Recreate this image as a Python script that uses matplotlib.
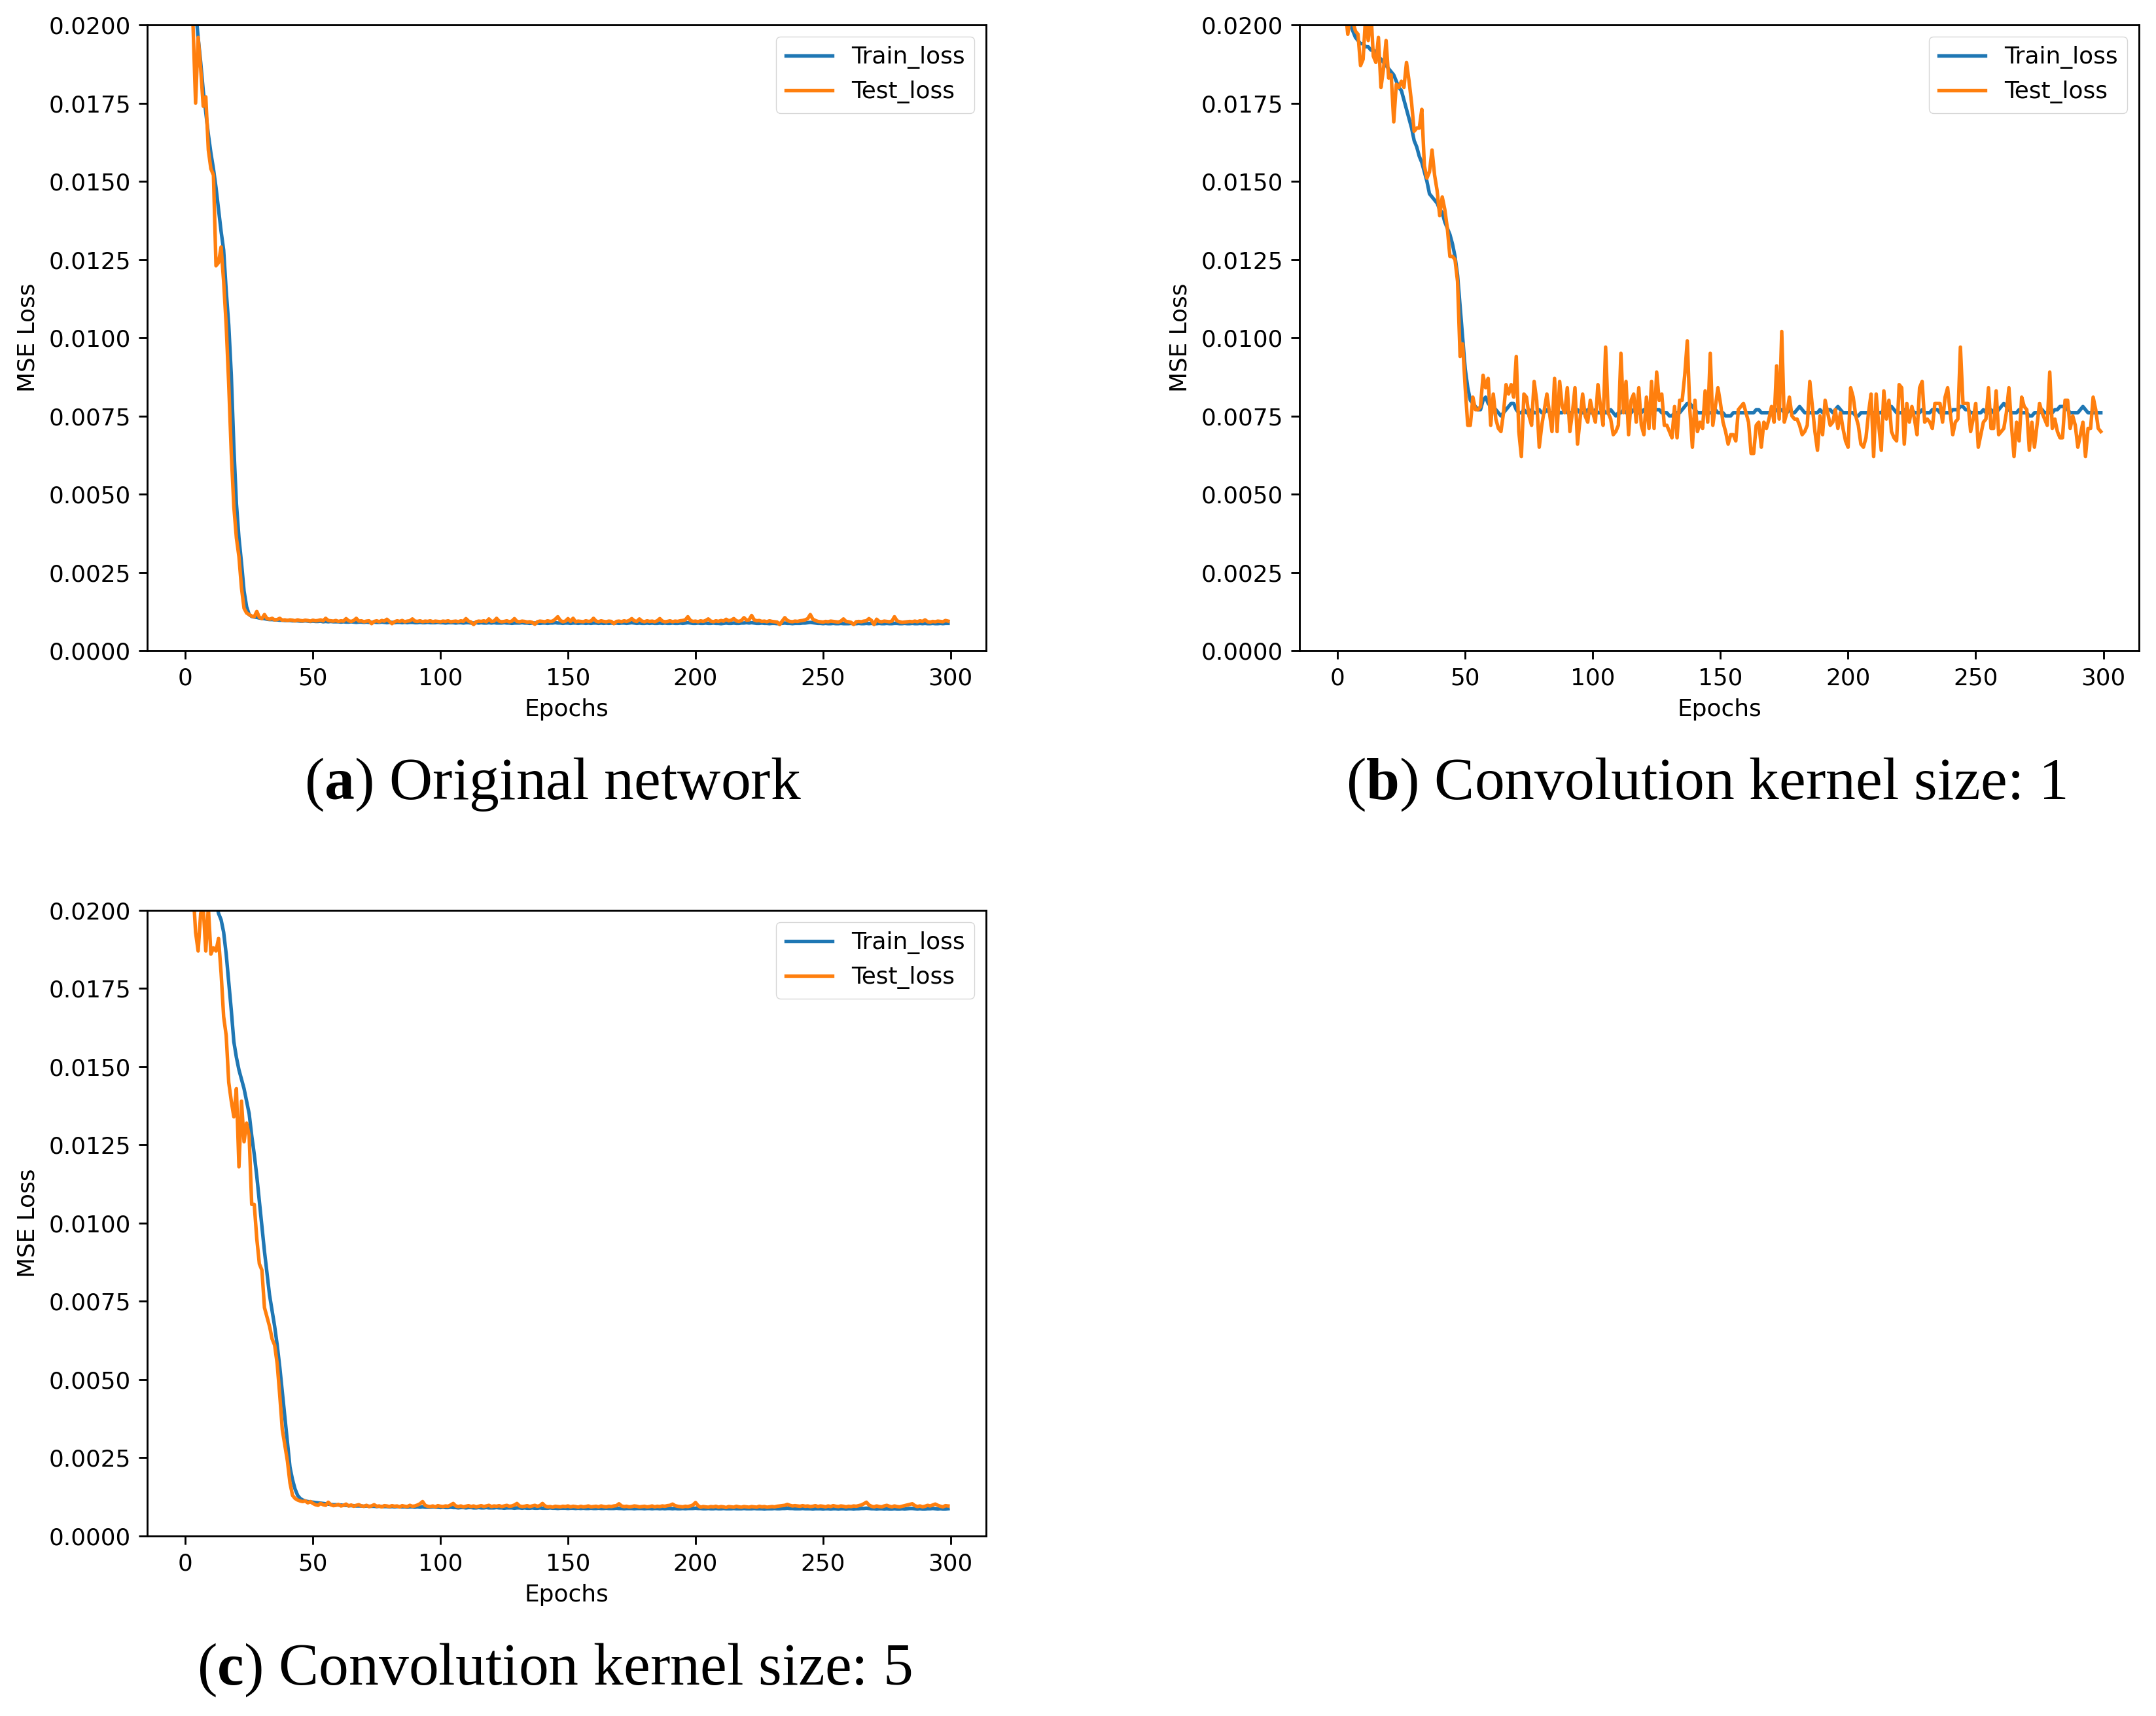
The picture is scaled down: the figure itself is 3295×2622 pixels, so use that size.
import numpy as np
import matplotlib
matplotlib.use('Agg')
import matplotlib.pyplot as plt
from matplotlib.ticker import FormatStrFormatter

# each panel is a default 6.4x4.8 matplotlib figure blown up by this factor
S = 2.585

epochs = list(range(300))

# loss values are in units of 1e-4
# (a) original network
train_a = [
    320, 285, 255, 228, 205, 196, 188, 179, 172, 165,
    159, 154, 148, 141, 134, 128, 115, 104, 88, 65,
    47, 36, 28, 19, 14, 11.5, 10.9, 10.7, 10.6, 10.4,
    10.3, 10.2, 10.0, 9.9, 9.9, 9.8, 9.8, 9.7, 9.7, 9.6,
    9.6, 9.6, 9.5, 9.5, 9.5, 9.4, 9.4, 9.5, 9.4, 9.3,
    9.4, 9.3, 9.3, 9.4, 9.2, 9.3, 9.2, 9.3, 9.2, 9.2,
    9.2, 9.1, 9.2, 9.1, 9.1, 9.2, 9.1, 9.0, 9.1, 9.1, 9.0, 9.1, 9.0, 9.0, 9.1, 9.0, 9.0, 9.1, 9.0, 8.9,
    9.0, 9.0, 8.9, 9.0, 9.0, 8.9, 9.0, 8.9, 9.0, 9.0, 8.9, 8.9, 9.0, 8.9, 8.9, 9.0, 8.9, 8.9, 8.9, 9.0,
    8.9, 8.9, 8.8, 8.9, 8.9, 8.9, 8.8, 8.9, 8.9, 8.8, 8.9, 8.9, 8.8, 8.8, 8.9, 8.8, 8.9, 8.8, 8.8, 8.9,
    8.8, 8.9, 8.8, 8.8, 8.8, 8.9, 8.8, 8.8, 8.7, 8.8, 8.8, 8.8, 8.9, 8.8, 8.8, 8.7, 8.8, 8.8, 8.8, 8.7,
    8.8, 8.8, 8.7, 8.8, 8.8, 8.9, 8.8, 8.8, 8.7, 8.8, 8.8, 8.7, 8.8, 8.8, 8.7, 8.8, 8.8, 8.7, 8.8, 8.7,
    8.8, 8.8, 8.7, 8.8, 8.7, 8.8, 8.7, 8.8, 8.7, 8.8, 8.7, 8.8, 8.8, 8.7, 8.8, 8.9, 8.8, 8.7, 8.8, 8.7,
    8.7, 8.8, 8.7, 8.8, 8.7, 8.7, 8.8, 8.7, 8.8, 8.7, 8.7, 8.8, 8.7, 8.7, 8.8, 8.7, 8.8, 8.9, 8.8, 8.7,
    8.7, 8.8, 8.7, 8.7, 8.8, 8.7, 8.7, 8.8, 8.7, 8.7, 8.6, 8.7, 8.8, 8.7, 8.7, 8.8, 8.7, 8.7, 8.8, 8.8,
    8.9, 8.8, 8.9, 8.8, 8.7, 8.7, 8.8, 8.7, 8.7, 8.6, 8.7, 8.7, 8.6, 8.7, 8.7, 8.8, 8.7, 8.7, 8.6, 8.7,
    8.7, 8.7, 8.8, 8.8, 8.9, 9.0, 8.9, 8.8, 8.7, 8.7, 8.6, 8.7, 8.6, 8.6, 8.7, 8.6, 8.6, 8.7, 8.6, 8.6,
    8.6, 8.7, 8.6, 8.6, 8.7, 8.6, 8.6, 8.7, 8.6, 8.7, 8.6, 8.6, 8.7, 8.6, 8.6, 8.7, 8.6, 8.6, 8.7, 8.7,
    8.6, 8.6, 8.7, 8.6, 8.6, 8.7, 8.6, 8.6, 8.7, 8.6, 8.7, 8.6, 8.6, 8.7, 8.6, 8.6, 8.7, 8.6, 8.7, 8.7,
]
test_a = [
    300, 260, 225, 200, 175, 196, 186, 174, 177, 160,
    154, 152, 123, 124, 129, 118, 104, 85, 63, 46,
    36, 30, 20, 13.5, 12, 11.5, 11.0, 10.8, 12.5, 10.6,
    10.2, 11.5, 10.2, 10.0, 10.3, 9.8, 9.9, 10.3, 9.7, 9.8,
    9.6, 9.8, 9.7, 9.5, 9.8, 9.6, 9.5, 9.7, 9.6, 9.4,
    9.7, 9.5, 9.6, 9.8, 9.5, 10.3, 9.6, 9.5, 9.4, 9.6,
    9.3, 9.5, 9.4, 10.2, 9.5, 9.3, 9.6, 10.3, 9.4, 9.5, 9.2, 9.4, 9.5, 8.6, 9.3, 9.5, 9.2, 9.6, 9.4, 10.0,
    9.3, 8.6, 9.2, 9.5, 9.3, 9.6, 9.2, 9.4, 9.5, 10.1, 9.4, 9.3, 9.5, 9.2, 9.4, 9.3, 9.5, 9.2, 9.4, 9.3,
    9.2, 9.4, 9.3, 9.5, 9.2, 9.3, 9.4, 9.2, 9.5, 9.3, 10.2, 9.4, 9.1, 8.3, 9.2, 9.4, 9.3, 9.5, 9.2, 10.1,
    9.3, 9.4, 10.3, 9.4, 9.2, 9.3, 9.5, 9.2, 9.4, 10.2, 9.3, 9.2, 9.4, 9.3, 9.1, 9.2, 9.0, 8.4, 9.2, 9.4,
    9.3, 9.2, 9.5, 9.3, 9.4, 10.0, 10.8, 9.6, 9.2, 9.4, 10.2, 9.3, 10.3, 9.2, 9.4, 9.3, 9.2, 9.5, 9.3, 9.4,
    10.3, 9.4, 9.2, 9.5, 9.3, 9.2, 9.4, 9.3, 8.6, 9.3, 9.4, 9.2, 9.5, 9.3, 9.6, 10.2, 9.5, 9.3, 10.1, 9.4,
    9.2, 9.5, 9.3, 9.4, 9.2, 9.5, 10.2, 9.4, 9.2, 9.3, 9.5, 9.2, 9.4, 9.3, 9.5, 9.6, 9.8, 10.8, 9.6, 9.3,
    9.4, 9.2, 9.5, 9.3, 9.6, 10.1, 9.4, 9.2, 9.5, 9.3, 9.6, 9.4, 10.0, 9.5, 9.7, 10.2, 9.5, 9.3, 9.6, 10.5,
    9.7, 9.8, 11.2, 9.8, 9.5, 9.6, 9.3, 9.4, 9.2, 9.5, 9.3, 9.2, 9.1, 8.3, 9.4, 10.5, 9.6, 9.3, 9.2, 9.4,
    9.3, 9.5, 9.6, 9.8, 10.2, 11.5, 10.0, 9.6, 9.3, 9.2, 9.1, 9.3, 9.2, 9.4, 9.3, 9.2, 9.1, 9.4, 10.1, 9.3,
    9.2, 9.0, 8.3, 9.2, 9.3, 9.2, 9.4, 9.5, 10.2, 9.6, 8.3, 10.0, 9.3, 9.2, 9.4, 9.3, 9.2, 9.4, 10.8, 9.5,
    9.2, 9.0, 9.1, 9.2, 9.3, 9.2, 9.4, 9.2, 9.5, 9.3, 9.8, 9.2, 9.1, 9.3, 9.2, 9.4, 9.3, 9.2, 9.6, 9.4,
]

# (b) convolution kernel size 1
train_b = [
    230, 220, 212, 206, 202, 200, 198, 196, 195, 194, 194, 193, 193, 192, 192, 191, 190, 189, 188, 187,
    186, 185, 184, 182, 180, 179, 176, 173, 170, 167, 163, 161, 158, 156, 153, 150, 146, 145, 144, 143,
    141, 140, 137, 135, 133, 130, 126, 120, 110, 100, 90, 84, 80, 79, 78, 77, 77, 80, 81, 79,
    78, 78, 77, 76, 75, 76, 77, 78, 79, 79, 77, 76, 76, 77, 76, 76, 77, 76, 76, 77,
    76, 76, 77, 76, 76, 76, 77, 76, 76, 77, 76, 76, 76, 77, 77, 76, 76, 76, 77, 76,
    76, 77, 76, 76, 77, 76, 76, 77, 76, 75, 76, 76, 77, 76, 76, 76, 77, 76, 76, 76,
    77, 76, 76, 76, 77, 77, 77, 76, 76, 76, 75, 75, 76, 76, 76, 77, 78, 79, 79, 78,
    77, 76, 76, 76, 77, 76, 76, 76, 77, 76, 76, 76, 75, 75, 75, 76, 76, 76, 76, 76,
    76, 76, 76, 76, 77, 77, 76, 76, 76, 76, 76, 76, 77, 77, 77, 76, 76, 77, 76, 76,
    77, 78, 77, 76, 76, 76, 76, 76, 76, 77, 76, 77, 77, 77, 76, 77, 78, 77, 76, 76,
    76, 76, 76, 75, 75, 76, 76, 76, 76, 76, 76, 76, 76, 76, 77, 76, 77, 78, 77, 76,
    76, 76, 77, 76, 76, 77, 76, 76, 76, 77, 76, 76, 76, 77, 77, 77, 76, 76, 76, 76,
    76, 77, 77, 77, 78, 78, 77, 77, 76, 76, 76, 76, 76, 77, 76, 76, 77, 76, 76, 77,
    78, 79, 78, 77, 76, 76, 76, 77, 76, 76, 76, 75, 75, 76, 76, 76, 77, 76, 76, 76,
    76, 77, 77, 78, 78, 78, 77, 76, 76, 76, 76, 77, 78, 77, 76, 76, 76, 76, 76, 76,
]
test_b = [
    235, 220, 212, 205, 197, 203, 201, 198, 197, 187,
    189, 203, 195, 205, 190, 188, 196, 180, 186, 195,
    183, 184, 169, 181, 180, 182, 180, 188, 182, 175,
    166, 167, 167, 173, 155, 151, 153, 160, 152, 147,
    139, 145, 141, 135, 126, 126, 125, 118, 94, 98,
    84, 72, 72, 81, 77, 77, 78, 88, 84, 87,
    72, 82, 74, 71, 70, 76, 85, 82, 85, 81,
    94, 70, 62, 82, 81, 75, 72, 86, 80, 65,
    72, 77, 82, 76, 70, 87, 70, 86, 78, 76,
    84, 70, 76, 84, 66, 74, 82, 75, 73, 80,
    76, 73, 85, 78, 72, 97, 76, 74, 69, 70,
    72, 95, 76, 86, 69, 80, 82, 73, 84, 72,
    69, 81, 71, 86, 71, 89, 80, 82, 72, 72,
    70, 68, 78, 68, 80, 80, 88, 99, 77, 65,
    80, 70, 73, 71, 83, 73, 95, 72, 78, 84,
    79, 73, 70, 66, 69, 69, 67, 77, 78, 79,
    76, 73, 63, 63, 72, 73, 65, 73, 71, 74,
    78, 73, 91, 74, 102, 73, 76, 81, 75, 74,
    74, 72, 69, 70, 72, 86, 78, 70, 64, 75,
    69, 80, 76, 72, 73, 77, 71, 76, 71, 67,
    65, 84, 81, 75, 72, 66, 65, 68, 76, 82,
    62, 82, 72, 64, 83, 74, 80, 70, 68, 67,
    85, 84, 66, 79, 73, 78, 74, 69, 84, 86,
    73, 74, 73, 71, 79, 79, 79, 73, 81, 84,
    76, 69, 73, 74, 97, 79, 79, 79, 70, 74,
    79, 65, 69, 73, 74, 84, 71, 71, 83, 69,
    70, 71, 76, 84, 72, 62, 73, 67, 81, 78,
    77, 64, 73, 65, 72, 79, 76, 74, 72, 89,
    71, 74, 70, 68, 68, 80, 80, 71, 75, 72,
    65, 69, 73, 62, 71, 71, 81, 77, 71, 70,
]

# (c) convolution kernel size 5
train_c = [
    320, 300, 285, 270, 258, 247, 238, 230, 223, 217,
    212, 207, 203, 199, 197, 193, 186, 177, 168, 158,
    153, 149, 146, 143, 139, 135, 128, 122, 115, 107,
    99, 91, 84, 77, 72, 67, 61, 54, 46, 38,
    30, 22, 18, 15, 13, 12, 11.5, 11.2, 11.0, 10.9,
    10.8, 10.7, 10.6, 10.5, 10.4, 10.3, 10.2, 10.1, 10.0, 10.0,
    9.9, 9.9, 9.8, 9.8, 9.7, 9.7, 9.7, 9.6, 9.6, 9.6,
    9.5, 9.6, 9.5, 9.5, 9.5, 9.4, 9.5, 9.4, 9.4, 9.4,
    9.3, 9.4, 9.3, 9.4, 9.3, 9.3, 9.3, 9.2, 9.3, 9.3,
    9.2, 9.3, 9.2, 9.3, 9.2, 9.2, 9.2, 9.3, 9.2, 9.2,
    9.1, 9.2, 9.1, 9.1, 9.2, 9.1, 9.1, 9.0, 9.1, 9.1, 9.0, 9.1, 9.1, 9.0, 9.0, 9.1, 9.0, 9.0, 9.1, 9.0,
    9.0, 9.0, 9.1, 9.0, 9.0, 8.9, 9.0, 9.0, 9.0, 8.9, 9.0, 9.0, 8.9, 9.0, 8.9, 8.9, 9.0, 8.9, 8.9, 9.0,
    8.9, 8.9, 8.9, 9.0, 8.9, 8.9, 8.8, 8.9, 8.9, 8.9, 8.8, 8.9, 8.9, 8.8, 8.9, 8.8, 8.9, 8.8, 8.8, 8.9,
    8.8, 8.8, 8.9, 8.8, 8.8, 8.9, 8.8, 8.8, 8.8, 8.9, 8.8, 8.8, 8.7, 8.8, 8.8, 8.8, 8.7, 8.8, 8.8, 8.8,
    8.7, 8.8, 8.8, 8.7, 8.8, 8.8, 8.7, 8.8, 8.7, 8.8, 8.8, 8.7, 8.8, 8.7, 8.7, 8.8, 8.7, 8.8, 8.8, 8.8,
    8.9, 8.8, 8.8, 8.7, 8.7, 8.8, 8.7, 8.7, 8.8, 8.7, 8.7, 8.8, 8.7, 8.7, 8.7, 8.8, 8.7, 8.7, 8.7, 8.8,
    8.7, 8.7, 8.7, 8.8, 8.7, 8.7, 8.7, 8.6, 8.7, 8.7, 8.7, 8.8, 8.7, 8.7, 8.8, 8.8, 8.9, 8.8, 8.8, 8.7,
    8.7, 8.7, 8.8, 8.7, 8.7, 8.7, 8.6, 8.7, 8.7, 8.7, 8.6, 8.7, 8.7, 8.6, 8.7, 8.7, 8.6, 8.7, 8.7, 8.6,
    8.7, 8.7, 8.6, 8.7, 8.7, 8.8, 8.8, 8.9, 8.8, 8.7, 8.7, 8.6, 8.7, 8.7, 8.6, 8.7, 8.6, 8.6, 8.7, 8.6,
    8.6, 8.7, 8.6, 8.7, 8.8, 8.8, 8.7, 8.6, 8.7, 8.6, 8.6, 8.7, 8.7, 8.8, 8.7, 8.6, 8.7, 8.6, 8.6, 8.7,
]
test_c = [
    280, 250, 225, 207, 193, 187, 199, 201, 187, 201,
    186, 188, 187, 191, 180, 166, 160, 145, 139, 134,
    143, 118, 139, 126, 132, 128, 106, 106, 95, 87,
    85, 73, 70, 67, 63, 61, 55, 45, 34, 29,
    24, 17, 13, 12, 11.5, 11.2, 11.0, 11.2, 10.6, 11.0,
    10.4, 10.0, 9.8, 10.4, 10.0, 9.8, 10.8, 10.0, 9.7, 9.8,
    10.1, 9.6, 9.8, 10.2, 9.6, 9.9, 9.5, 9.8, 10.0, 9.6, 9.5, 9.8, 9.4, 9.6, 10.0, 9.5, 9.6, 9.3, 9.7, 9.6,
    9.4, 9.7, 9.5, 9.6, 9.3, 9.7, 9.5, 9.4, 9.8, 9.5, 9.6, 9.9, 10.3, 11.0, 9.8, 9.5, 9.4, 9.6, 9.3, 9.7,
    9.5, 9.4, 9.6, 9.5, 9.9, 10.4, 9.6, 9.4, 9.6, 9.3, 9.5, 9.7, 9.4, 9.6, 9.3, 9.5, 9.7, 9.4, 9.6, 9.8,
    9.4, 9.6, 9.5, 9.7, 9.4, 9.6, 9.8, 9.5, 9.6, 9.9, 10.4, 9.6, 9.4, 9.5, 9.7, 9.4, 9.6, 9.8, 9.5, 9.7,
    10.4, 9.6, 9.3, 9.4, 9.2, 9.5, 9.4, 9.3, 9.5, 9.4, 9.6, 9.3, 9.5, 9.4, 9.2, 9.5, 9.3, 9.4, 9.6, 9.3,
    9.4, 9.5, 9.3, 9.6, 9.4, 9.3, 9.5, 9.4, 9.6, 9.7, 10.3, 9.6, 9.4, 9.5, 9.3, 9.4, 9.6, 9.5, 9.3, 9.4,
    9.5, 9.3, 9.4, 9.6, 9.3, 9.5, 9.4, 9.6, 9.5, 9.7, 9.8, 10.2, 9.7, 9.5, 9.4, 9.3, 9.5, 9.4, 9.6, 9.9,
    10.7, 9.7, 9.2, 9.4, 9.3, 9.2, 9.4, 9.3, 9.5, 9.2, 9.4, 9.3, 9.1, 9.4, 9.3, 9.2, 9.5, 9.3, 9.2, 9.4,
    9.3, 9.2, 9.4, 9.3, 9.2, 9.5, 9.3, 9.4, 9.2, 9.3, 9.4, 9.3, 9.5, 9.6, 9.7, 9.8, 10.1, 9.8, 9.6, 9.7,
    9.6, 9.5, 9.7, 9.5, 9.6, 9.4, 9.5, 9.7, 9.4, 9.6, 9.5, 9.3, 9.6, 9.4, 9.7, 9.5, 9.4, 9.6, 9.5, 9.3,
    9.5, 9.4, 9.6, 9.5, 9.7, 9.9, 10.3, 10.8, 9.9, 9.5, 9.3, 9.6, 9.4, 9.3, 9.6, 9.8, 9.5, 9.3, 9.6, 9.4,
    9.3, 9.5, 9.7, 9.9, 10.1, 10.3, 9.7, 9.4, 9.6, 9.3, 9.5, 9.8, 9.6, 9.9, 10.2, 9.8, 9.5, 9.3, 9.7, 9.6,
]

for name, arr in [('train_a', train_a), ('test_a', test_a), ('train_b', train_b),
                  ('test_b', test_b), ('train_c', train_c), ('test_c', test_c)]:
    if len(arr) != 300:
        raise ValueError(name + ' has %d values' % len(arr))

captions = ['a', 'b', 'c']
caption_texts = [' Original network', ' Convolution kernel size: 1', ' Convolution kernel size: 5']

plt.rcParams['font.size'] = 10 * S
plt.rcParams['lines.linewidth'] = 1.5 * S
plt.rcParams['axes.linewidth'] = 0.8 * S
plt.rcParams['xtick.major.size'] = 3.5 * S
plt.rcParams['ytick.major.size'] = 3.5 * S
plt.rcParams['xtick.major.width'] = 0.8 * S
plt.rcParams['ytick.major.width'] = 0.8 * S
plt.rcParams['xtick.major.pad'] = 3.5 * S
plt.rcParams['ytick.major.pad'] = 3.5 * S
plt.rcParams['axes.labelpad'] = 4.0 * S
plt.rcParams['legend.fontsize'] = 10 * S
plt.rcParams['mathtext.fontset'] = 'custom'
plt.rcParams['mathtext.rm'] = 'Liberation Serif'
plt.rcParams['mathtext.bf'] = 'Liberation Serif:bold'

fig = plt.figure(figsize=(32.95, 26.22), dpi=100)

boxes = [
    [0.0683, 0.6209, 0.3891, 0.3646],
    [0.6027, 0.6209, 0.3894, 0.3646],
    [0.0683, 0.1049, 0.3891, 0.3646],
]
caption_pos = [(0.2565, 0.543), (0.7913, 0.543), (0.257, 0.027)]
series = [(train_a, test_a), (train_b, test_b), (train_c, test_c)]

for box, (tr, te), cap, txt, pos in zip(boxes, series, captions, caption_texts, caption_pos):
    ax = fig.add_axes(box)
    ax.plot(epochs, np.array(tr) * 1e-4, label='Train_loss')
    ax.plot(epochs, np.array(te) * 1e-4, label='Test_loss')
    ax.set_ylim(0, 0.02)
    ax.set_xticks(range(0, 301, 50))
    ax.set_yticks(np.arange(0, 0.02001, 0.0025))
    ax.yaxis.set_major_formatter(FormatStrFormatter('%.4f'))
    ax.set_xlabel('Epochs')
    ax.set_ylabel('MSE Loss')
    ax.legend(loc='upper right')
    fig.text(pos[0], pos[1], r'($\mathbf{' + cap + r'}$)' + txt, ha='center', va='center',
             family='Liberation Serif', fontsize=66)

fig.savefig('out.png', dpi=100)
